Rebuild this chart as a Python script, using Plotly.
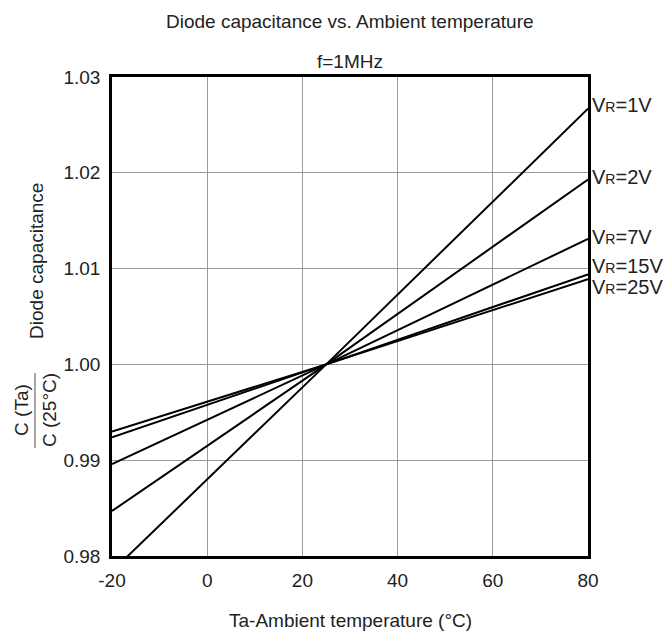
import plotly.graph_objects as go

temps = [-20, 25, 80]
series_names = ["1V", "2V", "7V", "15V", "25V"]
vr_1v = [0.9784, 1.0, 1.0267]
vr_2v = [0.9847, 1.0, 1.0193]
vr_7v = [0.9896, 1.0, 1.0131]
vr_15v = [0.9924, 1.0, 1.0094]
vr_25v = [0.9930, 1.0, 1.0089]
label_y = [1.0271, 1.0196, 1.0133, 1.0103, 1.0081]

x_ticks = [-20, 0, 20, 40, 60, 80]
x_ticklabels = ["-20", "0", "20", "40", "60", "80"]
y_ticks = [0.98, 0.99, 1.00, 1.01, 1.02, 1.03]
y_ticklabels = ["0.98", "0.99", "1.00", "1.01", "1.02", "1.03"]

FONT = "Liberation Sans, Arial, sans-serif"
TXT = "#222222"

fig = go.Figure()
all_series = [vr_1v, vr_2v, vr_7v, vr_15v, vr_25v]
for name, vals in zip(series_names, all_series):
    fig.add_trace(go.Scatter(x=temps, y=vals, mode="lines",
                             line=dict(color="black", width=2),
                             name="VR=" + name, showlegend=False,
                             cliponaxis=True))

for name, ly in zip(series_names, label_y):
    fig.add_annotation(x=1.004, xref="paper", y=ly, yref="y",
                       text="V<span style='font-size:14px'>R</span>=" + name,
                       showarrow=False, xanchor="left", yanchor="middle",
                       font=dict(size=20, color=TXT, family=FONT))

fig.add_annotation(x=0.5, xref="paper", y=1.115, yref="paper",
                   text="Diode capacitance vs. Ambient temperature",
                   showarrow=False, xanchor="center", yanchor="middle",
                   font=dict(size=19, color=TXT, family=FONT))
fig.add_annotation(x=0.5, xref="paper", y=1.033, yref="paper",
                   text="f=1MHz", showarrow=False, xanchor="center", yanchor="middle",
                   font=dict(size=19, color=TXT, family=FONT))
fig.add_annotation(x=0.5, xref="paper", y=-0.134, yref="paper",
                   text="Ta-Ambient temperature (°C)", showarrow=False,
                   xanchor="center", yanchor="middle",
                   font=dict(size=19, color=TXT, family=FONT))
fig.add_annotation(x=-0.1576, xref="paper", y=0.616, yref="paper",
                   text="Diode capacitance", textangle=-90, showarrow=False,
                   xanchor="center", yanchor="middle",
                   font=dict(size=19, color=TXT, family=FONT))
fig.add_annotation(x=-0.189, xref="paper", y=0.305, yref="paper",
                   text="C (Ta)", textangle=-90, showarrow=False,
                   xanchor="center", yanchor="middle",
                   font=dict(size=19, color=TXT, family=FONT))
fig.add_annotation(x=-0.130, xref="paper", y=0.305, yref="paper",
                   text="C (25°C)", textangle=-90, showarrow=False,
                   xanchor="center", yanchor="middle",
                   font=dict(size=19, color=TXT, family=FONT))
fig.add_shape(type="line", xref="paper", yref="paper",
              x0=-0.1618, x1=-0.1618, y0=0.2255, y1=0.382,
              line=dict(color="#888888", width=1.5))

fig.update_xaxes(range=[-20, 80], tickvals=x_ticks, ticktext=x_ticklabels,
                 showgrid=True, gridcolor="#9a9a9a", gridwidth=1,
                 showline=True, linecolor="black", linewidth=2.5, mirror=True,
                 ticks="outside", ticklen=5, tickcolor="rgba(0,0,0,0)",
                 tickfont=dict(size=19, color=TXT, family=FONT), zeroline=False)
fig.update_yaxes(range=[0.98, 1.03], tickvals=y_ticks, ticktext=y_ticklabels,
                 showgrid=True, gridcolor="#9a9a9a", gridwidth=1,
                 showline=True, linecolor="black", linewidth=2.5, mirror=True,
                 ticks="outside", ticklen=5, tickcolor="rgba(0,0,0,0)",
                 tickfont=dict(size=19, color=TXT, family=FONT), zeroline=False)

fig.update_layout(width=668, height=638,
                  margin=dict(l=112, r=80, t=77, b=82),
                  plot_bgcolor="white", paper_bgcolor="white",
                  showlegend=False)

fig.write_html("out.html", config={"displayModeBar": False},
               post_script="document.body.style.margin='0';document.body.style.padding='0';")
